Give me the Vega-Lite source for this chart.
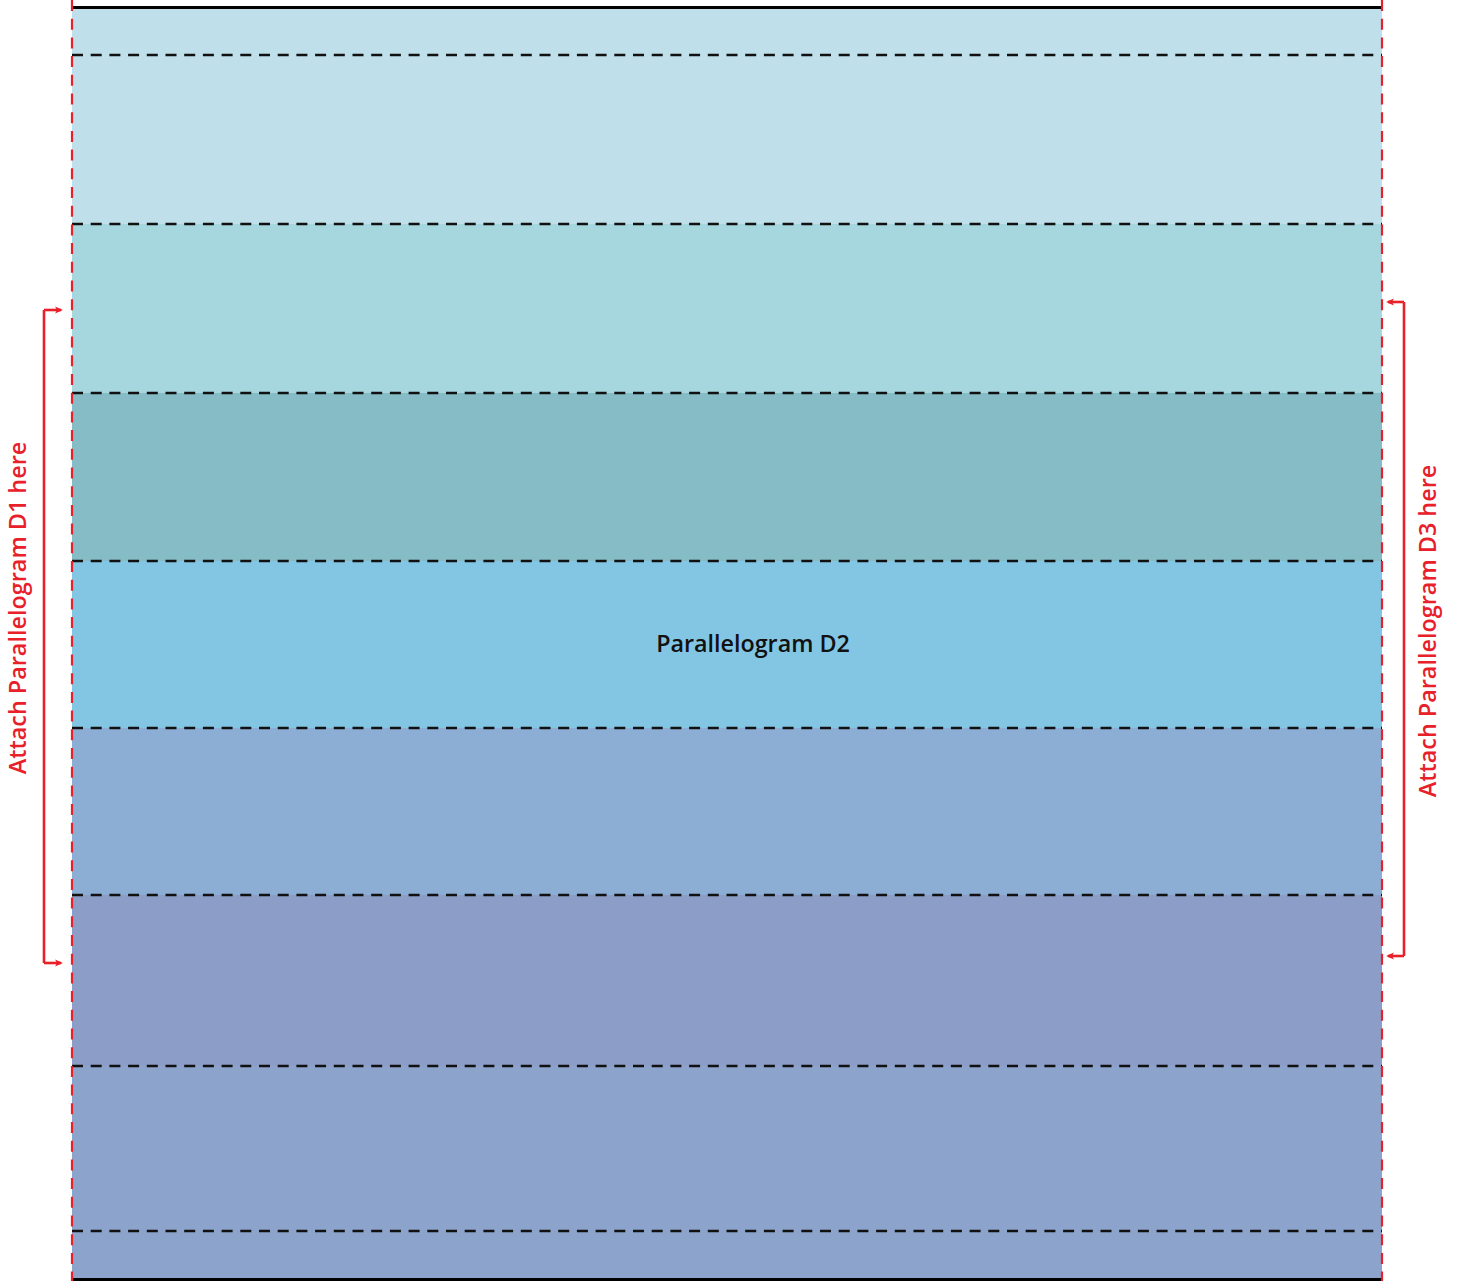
{
  "$schema": "https://vega.github.io/schema/vega-lite/v6.json",
  "width": 1458,
  "height": 1281,
  "autosize": "none",
  "padding": 0,
  "background": "white",
  "config": {"view": {"stroke": null}},
  "datasets": {
    "bands": [
      {"band": "b1", "top": 7, "bottom": 224},
      {"band": "b2", "top": 224, "bottom": 393},
      {"band": "b3", "top": 393, "bottom": 561},
      {"band": "b4", "top": 561, "bottom": 728},
      {"band": "b5", "top": 728, "bottom": 895},
      {"band": "b6", "top": 895, "bottom": 1066},
      {"band": "b7", "top": 1066, "bottom": 1280}
    ],
    "dashes": [
      {"y": 55}, {"y": 224}, {"y": 393}, {"y": 561}, {"y": 728}, {"y": 895}, {"y": 1066}, {"y": 1231}
    ],
    "edges": [{"y": 7.5}, {"y": 1279.5}],
    "sides": [{"x": 72}, {"x": 1382}],
    "brackets": [
      {"side": "left", "x": 44, "tip": 61, "top": 310, "bottom": 963},
      {"side": "right", "x": 1404, "tip": 1388, "top": 302, "bottom": 956}
    ],
    "arrows": [
      {"side": "left", "x": 59, "y": 310},
      {"side": "left", "x": 59, "y": 963},
      {"side": "right", "x": 1390, "y": 302},
      {"side": "right", "x": 1390, "y": 956}
    ],
    "sideLabels": [
      {"label": "Attach Parallelogram D1 here", "x": 19, "y": 608},
      {"label": "Attach Parallelogram D3 here", "x": 1429, "y": 631}
    ],
    "centerLabel": [{"label": "Parallelogram D2", "x": 753, "y": 645}]
  },
  "encoding": {},
  "layer": [
    {
      "data": {"name": "bands"},
      "mark": {"type": "rect"},
      "encoding": {
        "x": {"datum": 72, "type": "quantitative", "scale": {"domain": [0, 1458], "range": [0, 1458], "nice": false, "zero": false}, "axis": null},
        "x2": {"datum": 1382},
        "y": {"field": "top", "type": "quantitative", "scale": {"domain": [0, 1281], "range": [0, 1281], "nice": false, "zero": false}, "axis": null},
        "y2": {"field": "bottom"},
        "color": {
          "field": "band", "type": "nominal", "legend": null,
          "scale": {"domain": ["b1", "b2", "b3", "b4", "b5", "b6", "b7"],
                    "range": ["#bfe0ea", "#a6d7de", "#85bcc5", "#83c6e4", "#8daed4", "#8c9dc7", "#8ca3cb"]}
        }
      }
    },
    {
      "data": {"name": "dashes"},
      "mark": {"type": "rule", "color": "#111111", "strokeWidth": 2.3, "strokeDash": [11, 7.7]},
      "encoding": {
        "x": {"datum": 72, "type": "quantitative"},
        "x2": {"datum": 1382},
        "y": {"field": "y", "type": "quantitative"}
      }
    },
    {
      "data": {"name": "edges"},
      "mark": {"type": "rule", "color": "#000000", "strokeWidth": 3},
      "encoding": {
        "x": {"datum": 72, "type": "quantitative"},
        "x2": {"datum": 1382},
        "y": {"field": "y", "type": "quantitative"}
      }
    },
    {
      "data": {"name": "sides"},
      "mark": {"type": "rule", "color": "#e8202a", "strokeWidth": 2.2, "strokeDash": [11, 7.7]},
      "encoding": {
        "x": {"field": "x", "type": "quantitative"},
        "y": {"datum": 0, "type": "quantitative"},
        "y2": {"datum": 1281}
      }
    },
    {
      "data": {"name": "brackets"},
      "mark": {"type": "rule", "color": "#e8202a", "strokeWidth": 2.6},
      "encoding": {
        "x": {"field": "x", "type": "quantitative"},
        "y": {"field": "top", "type": "quantitative"},
        "y2": {"field": "bottom"}
      }
    },
    {
      "data": {"name": "brackets"},
      "mark": {"type": "rule", "color": "#e8202a", "strokeWidth": 2.6},
      "encoding": {
        "x": {"field": "x", "type": "quantitative"},
        "x2": {"field": "tip"},
        "y": {"field": "top", "type": "quantitative"}
      }
    },
    {
      "data": {"name": "brackets"},
      "mark": {"type": "rule", "color": "#e8202a", "strokeWidth": 2.6},
      "encoding": {
        "x": {"field": "x", "type": "quantitative"},
        "x2": {"field": "tip"},
        "y": {"field": "bottom", "type": "quantitative"}
      }
    },
    {
      "data": {"name": "arrows"},
      "mark": {"type": "point", "filled": true, "color": "#e8202a", "size": 60, "opacity": 1},
      "encoding": {
        "x": {"field": "x", "type": "quantitative"},
        "y": {"field": "y", "type": "quantitative"},
        "shape": {
          "field": "side", "type": "nominal", "legend": null,
          "scale": {"domain": ["left", "right"],
                    "range": ["M-1,-0.9L1,0L-1,0.9L-0.55,0Z", "M1,-0.9L-1,0L1,0.9L0.55,0Z"]}
        }
      }
    },
    {
      "data": {"name": "sideLabels"},
      "mark": {"type": "text", "angle": 270, "color": "#e8202a", "font": "Open Sans", "fontSize": 23.4, "fontWeight": 600, "align": "center", "baseline": "middle"},
      "encoding": {
        "x": {"field": "x", "type": "quantitative"},
        "y": {"field": "y", "type": "quantitative"},
        "text": {"field": "label"}
      }
    },
    {
      "data": {"name": "centerLabel"},
      "mark": {"type": "text", "color": "#111111", "font": "Open Sans", "fontSize": 23.3, "fontWeight": 600, "align": "center", "baseline": "middle"},
      "encoding": {
        "x": {"field": "x", "type": "quantitative"},
        "y": {"field": "y", "type": "quantitative"},
        "text": {"field": "label"}
      }
    }
  ]
}
